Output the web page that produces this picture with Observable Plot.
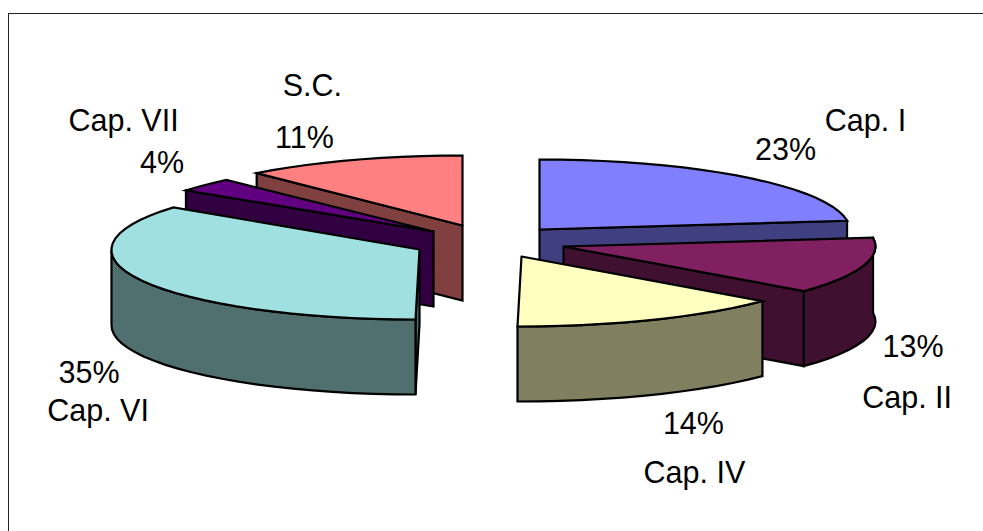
<!DOCTYPE html>
<html>
<head>
<meta charset="utf-8">
<script src="https://cdn.jsdelivr.net/npm/d3@7"></script>
<script src="https://cdn.jsdelivr.net/npm/@observablehq/plot@0.6"></script>
<style>html,body{margin:0;padding:0;background:#fff}svg{display:block}</style>
</head>
<body>
<script>
const categories = ["Cap. I", "Cap. II", "Cap. IV", "Cap. VI", "Cap. VII", "S.C."];
const shares = [23, 13, 14, 35, 4, 11];
const topColors = ["#8080ff", "#802060", "#ffffc0", "#a0e0e0", "#600080", "#ff8080"];
const wallColors = ["#404080", "#401030", "#808060", "#507070", "#300040", "#804040"];

// Drawing layout: exploded pie centre, radius, angle nudge and label offsets for each slice.
const layout = [
  {cx: 539, cy: 229, rx: 310, skew: 0, nudge: [0, 0],  radial: "end",   outer: null,      pct: [41, -27],  name: [121, -56]},
  {cx: 563, cy: 246, rx: 312, skew: 0, nudge: [0, 0],  radial: "end",   outer: [0, 1],    pct: [50, 81.5], name: [44, 132.5]},
  {cx: 521, cy: 256, rx: 316, skew: 4, nudge: [0, 0],  radial: null,    outer: [0, 1],    pct: [41, 104],  name: [42, 153]},
  {cx: 419, cy: 249, rx: 308, skew: 4, nudge: [0, 1],  radial: "start", outer: [0, 0.709], pct: [-53, 92.6], name: [-44, 130.6]},
  {cx: 433, cy: 231, rx: 306, skew: 0, nudge: [0, -3], radial: "start", outer: null,      pct: [-43, -22], name: [-81.5, -64]},
  {cx: 462, cy: 225, rx: 310, skew: 0, nudge: [-2, 0], radial: "start", outer: null,      pct: [-48, -22], name: [-40, -74]}
];
const ry = 70, depth = 75, step = 4;
const rad = (d) => d * Math.PI / 180;

const cum = d3.cumsum(shares);
const slices = categories.map((name, i) => {
  const l = layout[i];
  const a0 = (i ? cum[i - 1] : 0) * 3.6 + l.nudge[0];
  const a1 = cum[i] * 3.6 + l.nudge[1];
  return {name, share: shares[i], top: topColors[i], wall: wallColors[i], l, a0, a1};
});
const rim = (s, t, dz = 0) => ({
  x: s.l.cx + s.l.rx * Math.sin(rad(t)) - s.l.skew * Math.max(0, -Math.cos(rad(t))),
  y: s.l.cy - ry * Math.cos(rad(t)) + dz
});
const arc = (s, a, b, dz = 0) => {
  const n = Math.max(1, Math.ceil(Math.abs(b - a) / step));
  return d3.range(n + 1).map((k) => rim(s, a + (b - a) * k / n, dz));
};
const close = (pts) => [...pts, pts[0]];

const face = (pts, fill) => Plot.line(close(pts), {
  x: "x", y: "y", fill, stroke: "#000", strokeWidth: 2.2,
  strokeLinejoin: "miter", strokeMiterlimit: 8
});

// Painter's order: back slices first, walls before the top face.
const order = [5, 4, 3, 0, 1, 2];
const pieMarks = order.flatMap((i) => {
  const s = slices[i], l = s.l, out = [];
  const apex = {x: l.cx, y: l.cy};
  const apexLow = {x: l.cx, y: l.cy + depth};
  if (l.radial) {
    const t = l.radial === "end" ? s.a1 : s.a0;
    out.push(face([apex, rim(s, t), rim(s, t, depth), apexLow], s.wall));
  }
  if (l.outer) {
    const span = s.a1 - s.a0;
    const a = s.a0 + span * l.outer[0], b = s.a0 + span * l.outer[1];
    out.push(face([...arc(s, a, b), ...arc(s, b, a, depth)], s.wall));
  }
  out.push(face([apex, ...arc(s, s.a0, s.a1)], s.top));
  return out;
});

// Label anchors follow each slice's mid-angle on its rim.
const labels = slices.flatMap((s) => {
  const m = rim(s, (s.a0 + s.a1) / 2);
  return [
    {text: s.share + "%", x: m.x + s.l.pct[0], y: m.y + s.l.pct[1]},
    {text: s.name, x: m.x + s.l.name[0], y: m.y + s.l.name[1]}
  ];
});

const chart = Plot.plot({
  width: 983,
  height: 531,
  margin: 0,
  style: {background: "#fff"},
  x: {domain: [0, 983], range: [0, 983], axis: null},
  y: {domain: [0, 531], range: [0, 531], axis: null},
  marks: [
    Plot.frame({stroke: "#222", strokeWidth: 1, insetLeft: 8, insetTop: 13, insetRight: -4, insetBottom: -4}),
    ...pieMarks,
    Plot.text(labels, {
      x: "x", y: "y", text: "text", fill: "#000",
      fontFamily: "Liberation Sans, Arial, sans-serif", fontSize: 30.5
    })
  ]
});
document.body.appendChild(chart);
</script>
</body>
</html>
